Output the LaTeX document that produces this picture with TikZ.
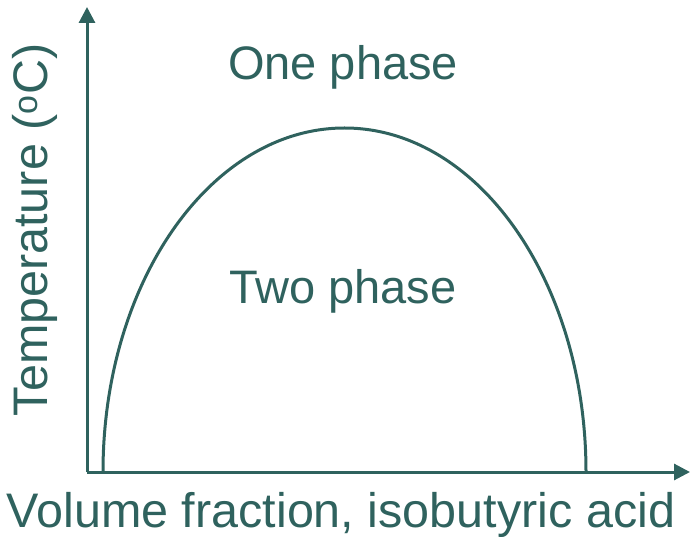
\documentclass[tikz,border=0pt]{standalone}
\usepackage{fontspec}
\setmainfont{Liberation Sans}
\usetikzlibrary{arrows.meta,positioning}
\definecolor{teal}{RGB}{47,98,94}
\tikzset{
  >={Triangle[length=16pt,width=16pt]},
  axis/.style={->,draw=teal,line width=3pt},
  curve/.style={draw=teal,line width=3pt},
  lbl/.style={text=teal,inner sep=0pt,font=\fontsize{47}{54}\selectfont},
  axis lbl/.style={text=teal,inner sep=0pt,font=\fontsize{48.5}{56}\selectfont},
}
\begin{document}
\begin{tikzpicture}[x=1pt,y=1pt]
  \useasboundingbox (0,0) rectangle (690,536);
  % axes
  \coordinate (origin) at (87,64);
  \coordinate (ytip) at (87,529);
  \coordinate (xtip) at (690,64);
  \draw[axis] (origin) -- (ytip);
  \draw[axis] (origin) -- (xtip);
  % coexistence curve
  \coordinate (left) at (103,64);
  \draw[curve] (left) arc[start angle=180,end angle=0,x radius=241.5,y radius=344];
  % labels
  \node[lbl,anchor=base] (one) at (343,456) {One phase};
  \node[lbl,anchor=base] (two) at (343,233) {Two phase};
  \node[axis lbl,anchor=base] (xlab) at (341,9) {Volume fraction, isobutyric acid};
  \node[axis lbl,anchor=base,rotate=90] (ylab) at (47,306) {Temperature (\textsuperscript{o}C)};
\end{tikzpicture}
\end{document}
